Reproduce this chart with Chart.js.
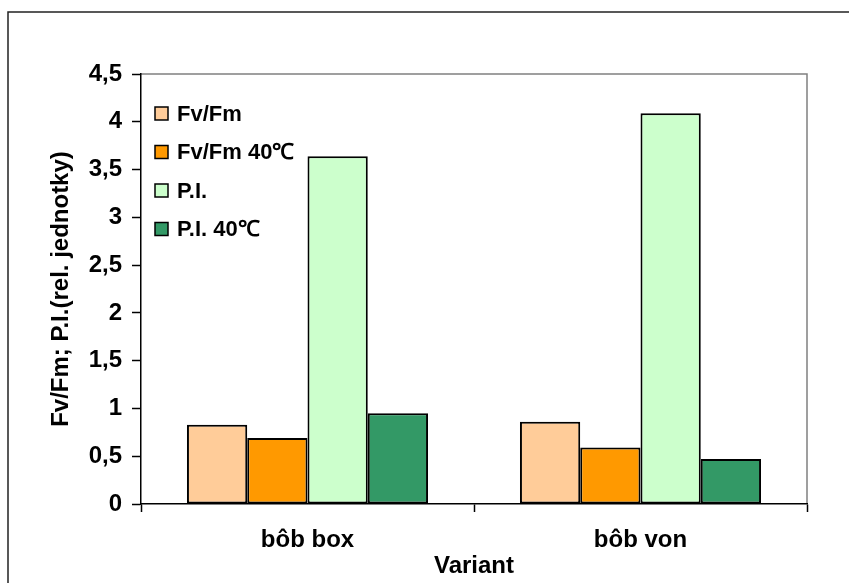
<!DOCTYPE html>
<html>
<head>
<meta charset="utf-8">
<script src="https://cdn.jsdelivr.net/npm/chart.js@4"></script>
<style>
  html, body { margin: 0; padding: 0; background: #fff; overflow: hidden; }
  canvas { display: block; }
</style>
</head>
<body>
<canvas id="chart" width="849" height="583"></canvas>
<script>
// data
const categories = ['bôb box', 'bôb von'];
const seriesNames = ['Fv/Fm', 'Fv/Fm 40℃', 'P.I.', 'P.I. 40℃'];
const fvfm = [0.83, 0.86];
const fvfm40 = [0.69, 0.59];
const pi = [3.64, 4.09];
const pi40 = [0.95, 0.47];
const yTicks = [0, 0.5, 1, 1.5, 2, 2.5, 3, 3.5, 4, 4.5];

const colors = ['#FFCC99', '#FF9900', '#CCFFCC', '#339966'];
const FONT = '"Liberation Sans", Arial, sans-serif';

// white background, outer frame and gray plot border
const frame = {
	id: 'frame',
	beforeDraw(chart) {
		const { ctx, chartArea } = chart;
		ctx.save();
		ctx.fillStyle = '#fff';
		ctx.fillRect(0, 0, chart.width, chart.height);
		ctx.strokeStyle = '#222';
		ctx.lineWidth = 1.5;
		ctx.strokeRect(8, 12, 900, 700);
		ctx.strokeStyle = '#808080';
		ctx.lineWidth = 1.5;
		ctx.beginPath();
		ctx.moveTo(chartArea.left, chartArea.top);
		ctx.lineTo(chartArea.right, chartArea.top);
		ctx.lineTo(chartArea.right, chartArea.bottom);
		ctx.stroke();
		ctx.restore();
	}
};

// legend inside the plot, top left
const boxLegend = {
	id: 'boxLegend',
	afterDraw(chart) {
		const { ctx } = chart;
		ctx.save();
		ctx.font = 'bold 22px ' + FONT;
		ctx.textBaseline = 'middle';
		ctx.textAlign = 'left';
		chart.data.datasets.forEach((ds, i) => {
			const cy = 113.5 + i * 38.5;
			ctx.fillStyle = ds.backgroundColor;
			ctx.fillRect(155, cy - 6.5, 13, 13);
			ctx.strokeStyle = '#000';
			ctx.lineWidth = 1.5;
			ctx.strokeRect(155, cy - 6.5, 13, 13);
			ctx.fillStyle = '#000';
			ctx.fillText(ds.label, 177, cy + 1);
		});
		ctx.restore();
	}
};

const seriesData = [fvfm, fvfm40, pi, pi40];
const axisFont = { family: FONT, size: 24, weight: 'bold' };

new Chart(document.getElementById('chart'), {
	type: 'bar',
	data: {
		labels: categories,
		datasets: seriesNames.map((name, i) => ({
			label: name,
			data: seriesData[i],
			backgroundColor: colors[i],
			borderColor: '#000',
			borderWidth: 2,
			borderSkipped: false,
			barPercentage: 1,
			categoryPercentage: 0.724
		}))
	},
	options: {
		responsive: false,
		animation: false,
		layout: { padding: { top: 74, right: 42, left: 0, bottom: 0 } },
		plugins: {
			legend: { display: false },
			tooltip: { enabled: false }
		},
		scales: {
			x: {
				afterFit(scale) { scale.height = 79; },
				border: { color: '#000', width: 1.5 },
				grid: { drawOnChartArea: false, drawTicks: true, tickLength: 8, tickColor: '#000', tickWidth: 1.5, offset: true },
				ticks: { color: '#000', padding: 14, font: axisFont },
				title: { display: true, text: 'Variant', color: '#000', padding: { top: 0, bottom: 2 }, font: axisFont }
			},
			y: {
				min: 0,
				max: 4.5,
				afterFit(scale) { scale.width = 141; },
				afterBuildTicks(scale) { scale.ticks = yTicks.map(v => ({ value: v })); },
				border: { color: '#000', width: 1.5 },
				grid: { drawOnChartArea: false, drawTicks: true, tickLength: 9, tickColor: '#000', tickWidth: 1.5 },
				ticks: {
					color: '#000',
					padding: 10,
					font: axisFont,
					callback: v => String(v).replace('.', ',')
				},
				title: { display: true, text: 'Fv/Fm; P.I.(rel. jednotky)', color: '#000', padding: { top: 47, bottom: 0 }, font: axisFont }
			}
		}
	},
	plugins: [frame, boxLegend]
});
</script>
</body>
</html>
